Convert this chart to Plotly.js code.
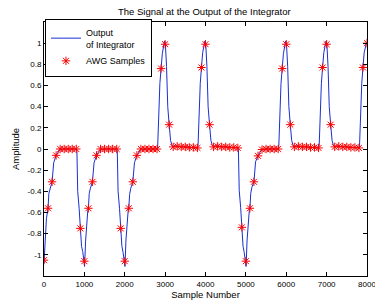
<!DOCTYPE html>
<html><head><meta charset="utf-8">
<script src="https://cdn.plot.ly/plotly-3.0.1.min.js"></script>
<style>html,body{margin:0;padding:0;background:#fff;}#chart{width:375px;height:300px;}</style>
</head><body><div id="chart"></div>
<script>
// Dense integrator output
var lineX = [0,15,30,60,85,100,120,150,200,240,270,300,350,400,500,600,700,800,
 815,835,870,900,930,960,990,1005,1030,1060,1085,1100,1120,1150,1200,1240,1270,1300,1350,1400,1500,1600,1700,1800,
 1815,1835,1870,1900,1930,1960,1990,2005,2030,2060,2085,2100,2120,2150,2200,2240,2270,2300,2350,2400,2500,2600,2700,2800,
 2815,2840,2870,2900,2930,2985,3005,3035,3065,3100,3135,3165,3200,3250,3300,3400,3500,3600,3700,3800,
 3815,3840,3870,3900,3930,3985,4005,4035,4065,4100,4135,4165,4200,4250,4300,4400,4500,4600,4700,4800,
 4815,4835,4870,4900,4930,4960,4990,5005,5030,5060,5085,5100,5120,5150,5200,5240,5270,5300,5350,5400,5500,5600,5700,5800,
 5815,5840,5870,5900,5930,5985,6005,6035,6065,6100,6135,6165,6200,6250,6300,6400,6500,6600,6700,6800,
 6815,6840,6870,6900,6930,6985,7005,7035,7065,7100,7135,7165,7200,7250,7300,7400,7500,7600,7700,7800,
 7815,7840,7870,7900,7930,7985,8000];
var lineY = [-1.08,-1.0,-0.87,-0.66,-0.58,-0.56,-0.42,-0.37,-0.31,-0.13,-0.08,-0.06,-0.03,-0.005,0,0,0,0,
 -0.02,-0.40,-0.56,-0.75,-0.92,-0.97,-1.09,-1.11,-0.87,-0.66,-0.58,-0.56,-0.42,-0.37,-0.31,-0.13,-0.08,-0.06,-0.03,-0.005,0,0,0,0,
 -0.02,-0.40,-0.56,-0.75,-0.92,-0.98,-1.09,-1.11,-0.86,-0.66,-0.58,-0.56,-0.43,-0.37,-0.31,-0.13,-0.08,-0.06,-0.03,-0.005,0,0,0,0,
 0.02,0.32,0.62,0.76,0.90,1.02,1.0,0.78,0.40,0.23,0.08,0.04,0.02,0.03,0.025,0.02,0.02,0.015,0.015,0.01,
 0.03,0.33,0.62,0.77,0.91,1.02,1.0,0.78,0.40,0.23,0.08,0.04,0.02,0.03,0.025,0.02,0.02,0.015,0.015,0.01,
 -0.01,-0.39,-0.55,-0.74,-0.92,-0.98,-1.09,-1.11,-0.86,-0.66,-0.58,-0.56,-0.42,-0.36,-0.31,-0.12,-0.08,-0.065,-0.03,-0.005,0,0,0,0,
 0.02,0.32,0.62,0.76,0.90,1.02,1.0,0.78,0.40,0.23,0.08,0.04,0.02,0.03,0.025,0.02,0.02,0.015,0.015,0.01,
 0.03,0.33,0.62,0.77,0.91,1.02,1.0,0.78,0.40,0.23,0.08,0.04,0.02,0.03,0.025,0.02,0.02,0.015,0.015,0.01,
 0.03,0.33,0.62,0.77,0.91,1.0,1.0];

// AWG samples
var sampleX = [0,100,200,300,400,500,600,700,800,900,1000,1100,1200,1300,1400,1500,1600,1700,1800,1900,
 2000,2100,2200,2300,2400,2500,2600,2700,2800,2900,3000,3100,3200,3300,3400,3500,3600,3700,3800,3900,
 4000,4100,4200,4300,4400,4500,4600,4700,4800,4900,5000,5100,5200,5300,5400,5500,5600,5700,5800,5900,
 6000,6100,6200,6300,6400,6500,6600,6700,6800,6900,7000,7100,7200,7300,7400,7500,7600,7700,7800,7900,8000];
var sampleY = [-1.05,-0.56,-0.31,-0.06,0,0,0,0,0,-0.75,-1.06,-0.56,-0.31,-0.06,0,0,0,0,0,-0.75,
 -1.06,-0.56,-0.31,-0.06,0,0,0,0,0,0.76,0.99,0.23,0.02,0.025,0.02,0.02,0.015,0.015,0.01,0.77,
 0.99,0.23,0.02,0.025,0.02,0.02,0.015,0.015,0.01,-0.74,-1.06,-0.56,-0.31,-0.065,-0.005,0,0,0,0,0.76,
 0.99,0.23,0.02,0.025,0.02,0.02,0.015,0.015,0.01,0.77,0.99,0.23,0.02,0.025,0.02,0.02,0.015,0.015,0.01,0.77,1.0];

var xTicks = [0,1000,2000,3000,4000,5000,6000,7000,8000];
var yTicks = [-1,-0.8,-0.6,-0.4,-0.2,0,0.2,0.4,0.6,0.8,1];
var yTickText = ['-1','-0.8','-0.6','-0.4','-0.2','0','0.2','0.4','0.6','0.8','1'];

var FONT = 'Liberation Sans, Arial, Helvetica, sans-serif';
var axisCommon = {
  showline: true, linecolor: '#000', linewidth: 1, mirror: 'ticks',
  ticks: 'inside', ticklen: 4, tickcolor: '#000', tickwidth: 1,
  showgrid: false, zeroline: false, ticklabeloverflow: 'allow',
  tickfont: {family: FONT, size: 8, color: '#000'}
};

var traces = [
  {x: lineX, y: lineY, mode: 'lines', name: 'Output<br>of Integrator',
   line: {color: '#1a2fd0', width: 1}},
  {x: sampleX, y: sampleY, mode: 'markers', name: 'AWG Samples',
   marker: {symbol: 'asterisk-open', size: 7, color: '#ff0000', line: {color: '#ff0000', width: 1}}}
];

var layout = {
  width: 375, height: 300,
  margin: {l: 44, r: 8, t: 22, b: 24},
  paper_bgcolor: '#fff', plot_bgcolor: '#fff',
  font: {family: FONT, size: 9, color: '#000'},
  title: {text: 'The Signal at the Output of the Integrator', font: {family: FONT, size: 9.5, color: '#000'},
          x: 0.545, xanchor: 'center', y: 0.96, yanchor: 'middle'},
  xaxis: Object.assign({}, axisCommon, {range: [0, 8000], tickvals: xTicks,
    title: {text: 'Sample Number', font: {family: FONT, size: 9.5}, standoff: 2}}),
  yaxis: Object.assign({}, axisCommon, {range: [-1.2, 1.2], tickvals: yTicks, ticktext: yTickText,
    title: {text: 'Amplitude', font: {family: FONT, size: 9.5}, standoff: 6}}),
  showlegend: true,
  legend: {x: 0.003, y: 1.012, xanchor: 'left', yanchor: 'top', bgcolor: '#fff',
    bordercolor: '#000', borderwidth: 1, font: {family: FONT, size: 9, color: '#000'},
    tracegroupgap: 0, itemwidth: 30}
};

Plotly.newPlot('chart', traces, layout, {staticPlot: true, displayModeBar: false});
</script></body></html>
